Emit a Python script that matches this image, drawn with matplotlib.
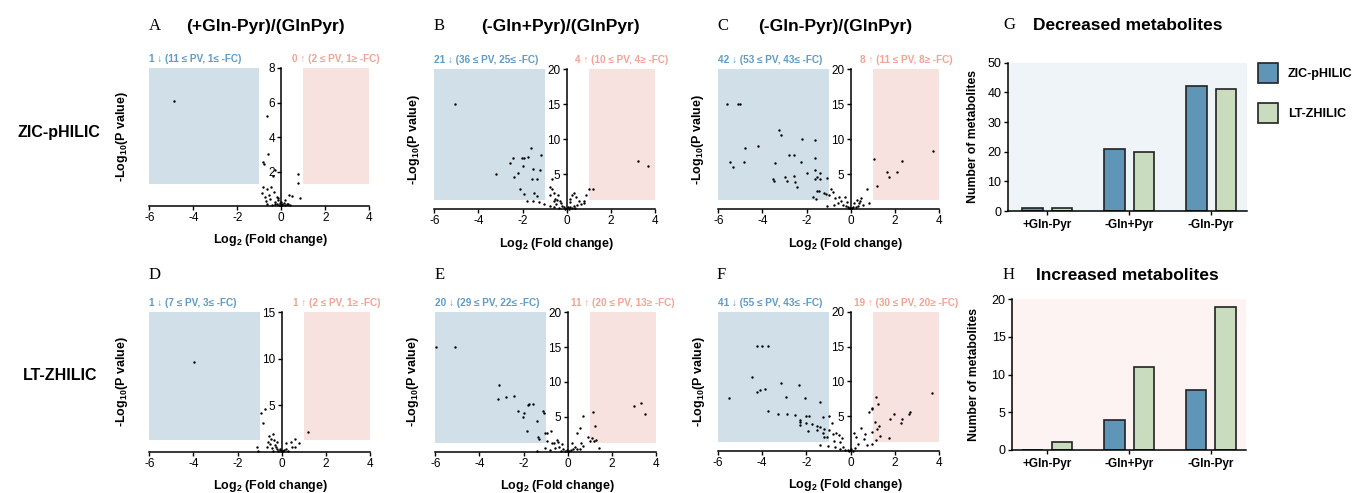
import matplotlib.pyplot as plt
import numpy as np
from matplotlib.patches import Patch, Rectangle

plt.rcParams['font.family'] = ['Liberation Sans', 'DejaVu Sans']
plt.rcParams['mathtext.fontset'] = 'custom'
plt.rcParams['mathtext.rm'] = 'Liberation Sans'
plt.rcParams['mathtext.bf'] = 'Liberation Sans:bold'
plt.rcParams['axes.unicode_minus'] = False

# пороги для выделенных зон
FC_CUT = 1.0
P_CUT = 1.3

# точки (log2 FC, -log10 p) для каждого вулкана
A_points = [(-4.88, 6.09), (-0.66, 5.22), (-0.61, 3.00), (-0.84, 2.54), (-0.78, 2.41),
            (-0.37, 1.73), (-0.29, 2.08), (0.77, 1.83), (0.76, 1.35), (-0.81, 1.12),
            (-0.66, 0.96), (-0.46, 1.12), (-0.89, 0.73), (-0.73, 0.54), (-0.58, 0.64),
            (-0.35, 0.81), (-0.20, 0.54), (-0.51, 0.39), (-0.28, 0.25), (-0.13, 0.35),
            (-0.05, 0.19), (0.02, 0.12), (0.10, 0.15), (0.19, 0.35), (0.33, 0.64),
            (0.48, 0.58), (0.86, 0.44), (0.24, 0.12), (0.39, 0.06), (-0.66, 0.12),
            (-0.43, 0.08), (-0.20, 0.12), (-0.69, 0.31), (0.05, 0.03), (-0.10, 0.05),
            (0.15, 0.05), (-0.30, 0.10), (0.00, 0.25), (-0.15, 0.45), (0.30, 0.10)]

B_points = [(-5.06, 15.0), (-1.63, 8.8), (-1.18, 7.7), (-2.04, 7.35), (-1.93, 7.35),
            (-1.74, 7.5), (-2.45, 7.3), (-2.57, 6.6), (-2.0, 6.1), (-3.21, 5.0),
            (-2.2, 5.1), (-2.4, 4.6), (-1.54, 5.7), (-1.2, 5.6), (-1.56, 4.25),
            (-1.36, 4.25), (-2.1, 2.8), (-1.94, 2.15), (-1.48, 2.25), (-1.33, 1.9),
            (-1.79, 1.2), (-1.52, 1.1), (-1.25, 1.0), (-1.03, 0.7), (3.21, 6.9),
            (3.68, 6.2), (0.99, 2.8), (1.2, 2.8), (0.87, 2.05), (-0.68, 4.3),
            (-0.77, 3.1), (-0.65, 2.9), (-0.56, 2.24), (-0.74, 2.05), (-0.38, 1.96),
            (-0.51, 1.48), (-0.44, 1.29), (-0.59, 1.19), (-0.32, 1.19), (-0.47, 0.72),
            (-0.26, 0.81), (-0.21, 0.43), (-0.56, 0.24), (-0.36, 0.14), (-0.14, 0.24),
            (-0.06, 0.05), (-0.74, 0.43), (0.32, 2.24), (0.24, 1.96), (0.44, 1.77),
            (0.17, 1.48), (0.14, 1.0), (0.54, 1.19), (0.77, 1.19), (0.65, 0.72),
            (0.47, 0.62), (0.8, 0.81), (0.32, 0.43), (0.17, 0.24), (0.09, 0.05),
            (0.05, 0.33), (0.24, 0.14), (0.39, 0.14)]

C_points = [(-5.62, 15.0), (-5.09, 15.0), (-5.02, 15.0), (-3.24, 11.3), (-3.16, 10.6),
            (-2.21, 10.0), (-1.63, 9.9), (-4.22, 9.0), (-4.81, 8.8), (-2.57, 7.76),
            (-2.81, 7.67), (-1.63, 7.29), (-2.24, 6.71), (-5.47, 6.71), (-4.84, 6.67),
            (-3.45, 6.62), (-5.35, 6.05), (-1.62, 5.57), (-2.0, 5.14), (-1.39, 5.1),
            (-2.57, 4.71), (-2.98, 4.62), (-1.54, 4.62), (-1.62, 4.24), (-1.39, 4.33),
            (-3.54, 4.33), (-3.47, 4.05), (-2.9, 3.95), (-2.53, 3.86), (-2.45, 3.19),
            (-1.09, 4.38), (-1.51, 2.62), (-1.42, 2.52), (-1.69, 1.67), (-1.57, 1.38),
            (-1.21, 2.24), (-0.89, 2.81), (-0.79, 2.48), (-1.12, 2.14), (-0.97, 2.05),
            (-0.71, 1.52), (-0.51, 1.76), (-0.44, 1.14), (-0.26, 1.67), (-0.17, 1.05),
            (-0.74, 0.57), (-0.56, 0.81), (-0.36, 0.57), (-0.21, 0.43), (-0.14, 0.24),
            (-0.06, 0.14), (-1.07, 0.43), (-0.03, 0.1), (0.17, 0.9), (0.29, 1.29),
            (0.39, 0.81), (0.47, 1.52), (0.54, 0.57), (0.74, 2.9), (0.85, 0.81),
            (0.09, 0.33), (0.24, 0.24), (0.35, 0.43), (0.05, 0.1), (0.42, 1.1),
            (1.05, 7.19), (1.17, 3.29), (1.63, 5.24), (1.75, 4.62), (2.08, 5.29),
            (2.32, 6.86), (3.74, 8.33)]

D_points = [(-3.96, 9.69), (-0.76, 4.56), (-0.94, 4.13), (-0.83, 3.05), (1.19, 2.08),
            (-0.38, 1.9), (-0.56, 1.69), (-0.47, 1.33), (-0.35, 1.26), (-0.23, 1.08),
            (-0.6, 1.08), (-0.53, 0.83), (-0.3, 0.72), (-1.1, 0.54), (-1.06, 0.04),
            (-0.68, 0.54), (-0.45, 0.39), (-0.23, 0.25), (-0.08, 0.18), (0.0, 0.11),
            (0.06, 0.07), (0.21, 0.25), (0.18, 0.97), (0.4, 1.08), (0.6, 1.4),
            (0.78, 0.97), (0.45, 0.54), (0.6, 0.47), (0.3, 0.04), (-0.15, 0.04),
            (-0.38, 0.04), (-0.1, 0.3), (0.12, 0.2), (-0.25, 0.5)]

E_points = [(-5.98, 15.02), (-5.11, 15.02), (-3.11, 9.52), (-3.16, 7.56), (-2.8, 7.89),
            (-2.45, 7.99), (-1.79, 6.65), (-1.74, 6.84), (-1.59, 6.89), (-2.24, 5.79),
            (-1.97, 5.55), (-2.04, 4.98), (-1.11, 5.79), (-1.06, 5.5), (-1.38, 4.45),
            (-1.83, 2.97), (-1.33, 2.06), (-1.32, 1.87), (-1.02, 2.63), (-0.95, 2.73),
            (-0.74, 3.01), (-1.38, 0.05), (-0.95, 1.53), (-0.73, 1.2), (-0.61, 1.29),
            (-0.5, 1.67), (-0.43, 1.34), (-0.27, 1.1), (-0.38, 0.62), (-0.58, 0.48),
            (-1.03, 0.48), (-0.8, 0.24), (-0.2, 0.33), (-0.12, 0.1), (-0.05, 0.24),
            (0.02, 0.1), (0.13, 0.24), (0.25, 0.33), (0.4, 0.38), (0.56, 0.33),
            (0.33, 0.72), (0.21, 1.29), (0.71, 0.86), (0.6, 1.2), (0.44, 2.73),
            (0.56, 3.35), (0.71, 5.12), (0.93, 2.15), (1.0, 1.53), (1.08, 1.91),
            (1.19, 1.58), (1.26, 1.67), (1.16, 5.74), (1.25, 3.73), (1.4, 0.48),
            (3.0, 6.6), (3.34, 6.99), (3.49, 5.41), (-0.3, 0.15), (0.08, 0.05)]

F_points = [(-4.23, 15.07), (-3.99, 15.07), (-3.73, 15.07), (-4.47, 10.67), (-5.5, 7.61),
            (-3.16, 9.76), (-2.34, 9.47), (-4.23, 8.42), (-4.08, 8.71), (-3.88, 8.95),
            (-2.93, 7.75), (-2.08, 7.66), (-1.38, 7.08), (-3.73, 5.79), (-3.28, 5.26),
            (-2.87, 5.36), (-2.53, 5.12), (-2.03, 5.07), (-1.89, 4.98), (-2.3, 4.45),
            (-2.27, 4.16), (-2.3, 3.68), (-2.0, 3.97), (-1.73, 3.83), (-1.51, 3.59),
            (-1.92, 2.87), (-1.54, 3.01), (-1.39, 3.49), (-1.24, 4.93), (-0.97, 5.07),
            (-1.21, 3.16), (-1.24, 2.63), (-1.21, 1.96), (-0.86, 3.97), (-0.97, 3.01),
            (-1.09, 2.06), (-0.79, 2.44), (-0.64, 2.63), (-0.52, 2.25), (-0.38, 1.82),
            (-0.76, 1.48), (-0.49, 1.34), (-1.39, 0.91), (-1.02, 0.77), (-0.72, 0.62),
            (-0.34, 0.62), (-0.49, 0.24), (-0.26, 0.14), (-0.11, 0.1), (0.04, 0.24),
            (0.19, 0.38), (0.15, 2.63), (0.24, 2.06), (0.47, 3.35), (0.65, 2.39),
            (0.6, 1.77), (0.35, 1.0), (0.72, 0.81), (0.95, 0.96), (0.99, 2.78),
            (0.84, 5.55), (0.95, 5.98), (0.99, 6.17), (1.13, 7.8), (1.22, 6.75),
            (1.1, 4.16), (1.28, 3.59), (1.17, 1.53), (1.33, 2.2), (1.18, 3.11),
            (1.75, 1.82), (1.78, 4.55), (1.96, 5.31), (2.28, 4.07), (2.34, 4.55),
            (2.63, 5.26), (2.69, 5.6), (3.67, 8.37), (0.1, 0.05), (-0.05, 0.03)]

# подписи над зонами
down_labels = ['1 ↓ (11 ≤ PV, 1≤ -FC)', '21 ↓ (36 ≤ PV, 25≤ -FC)', '42 ↓ (53 ≤ PV, 43≤ -FC)',
               '1 ↓ (7 ≤ PV, 3≤ -FC)', '20 ↓ (29 ≤ PV, 22≤ -FC)', '41 ↓ (55 ≤ PV, 43≤ -FC)']
up_labels = ['0 ↑ (2 ≤ PV, 1≥ -FC)', '4 ↑ (10 ≤ PV, 4≥ -FC)', '8 ↑ (11 ≤ PV, 8≥ -FC)',
             '1 ↑ (2 ≤ PV, 1≥ -FC)', '11 ↑ (20 ≤ PV, 13≥ -FC)', '19 ↑ (30 ≤ PV, 20≥ -FC)']
volcano_titles = ['(+Gln-Pyr)/(GlnPyr)', '(-Gln+Pyr)/(GlnPyr)', '(-Gln-Pyr)/(GlnPyr)']

# столбчатые диаграммы
conditions = ['+Gln-Pyr', '-Gln+Pyr', '-Gln-Pyr']
columns = ['ZIC-pHILIC', 'LT-ZHILIC']
decreased_zic = [1, 21, 42]
decreased_lt = [1, 20, 41]
increased_zic = [0, 4, 8]
increased_lt = [1, 11, 19]

BLUE_BG = '#d1e0e8'
PINK_BG = '#f8e2df'
BLUE_TXT = '#5f9bc5'
PINK_TXT = '#f1a394'
BAR_BLUE = '#5f96b8'
BAR_GREEN = '#c9dcbd'
EDGE = '#222222'

W, H = 1354, 493
fig = plt.figure(figsize=(W / 100, H / 100), dpi=100)


def fx(px):
    return px / W


def fy(py):
    return 1 - py / H


def volcano(rect, pts, ymax, yticks, down_txt, up_txt, ylab_x, xlab_x):
    ax = fig.add_axes(rect)
    ax.set_xlim(-6, 4)
    ax.set_ylim(0, ymax)
    ax.add_patch(Rectangle((-6, P_CUT), 6 - FC_CUT, ymax - P_CUT, facecolor=BLUE_BG, lw=0, zorder=0))
    ax.add_patch(Rectangle((FC_CUT, P_CUT), 4 - FC_CUT, ymax - P_CUT, facecolor=PINK_BG, lw=0, zorder=0))
    fc, p = np.array(pts).T
    ax.scatter(fc, p, s=3, c='black', linewidths=0, zorder=3, clip_on=False)

    ax.spines['left'].set_position(('data', 0))
    ax.spines[['top', 'right']].set_visible(False)
    for s in ['left', 'bottom']:
        ax.spines[s].set_linewidth(1.1)
        ax.spines[s].set_zorder(4)
    ax.set_xticks([-6, -4, -2, 0, 2, 4])
    ax.set_yticks(yticks)
    ax.tick_params(labelsize=8.5, length=3, width=1, pad=1.5)
    ax.set_facecolor('none')

    ax.set_ylabel(r'-Log$_{\mathbf{10}}$(P value)', fontsize=9, weight='bold')
    ax.yaxis.set_label_coords(ylab_x, 0.5)
    ax.set_xlabel(r'Log$_{\mathbf{2}}$ (Fold change)', fontsize=9, weight='bold')
    ax.xaxis.set_label_coords(xlab_x, -0.19)

    ax.annotate(down_txt, xy=(-6, 1), xycoords=('data', 'axes fraction'), xytext=(0, 6.5),
                textcoords='offset points', ha='left', va='center', fontsize=7.2,
                weight='bold', color=BLUE_TXT)
    ax.annotate(up_txt, xy=(2.5, 1), xycoords=('data', 'axes fraction'), xytext=(0, 6.5),
                textcoords='offset points', ha='center', va='center', fontsize=7.2,
                weight='bold', color=PINK_TXT)
    return ax


volcano([fx(149.3), fy(206), fx(220), 138 / H], A_points, 8, [2, 4, 6, 8],
        down_labels[0], up_labels[0], -0.087, 0.55)
volcano([fx(434.3), fy(209), fx(220.7), 139.7 / H], B_points, 20, [5, 10, 15, 20],
        down_labels[1], up_labels[1], -0.057, 0.555)
volcano([fx(718.3), fy(209), fx(220.7), 139.7 / H], C_points, 20, [5, 10, 15, 20],
        down_labels[2], up_labels[2], -0.056, 0.575)
volcano([fx(149.3), fy(451.7), fx(220.7), 139.4 / H], D_points, 15, [5, 10, 15],
        down_labels[3], up_labels[3], -0.087, 0.55)
volcano([fx(435.3), fy(451.7), fx(220.7), 139.4 / H], E_points, 20, [5, 10, 15, 20],
        down_labels[4], up_labels[4], -0.066, 0.555)
volcano([fx(718), fy(451), fx(221), 139.3 / H], F_points, 20, [5, 10, 15, 20],
        down_labels[5], up_labels[5], -0.051, 0.575)


def bar_panel(rect, zic, lt, ymax, step, bg, xlim, ylab_x):
    ax = fig.add_axes(rect)
    x = np.arange(len(conditions))
    width = 0.25
    ax.bar(x - 0.18, zic, width, color=BAR_BLUE, edgecolor=EDGE, linewidth=1.2, label=columns[0])
    ax.bar(x + 0.18, lt, width, color=BAR_GREEN, edgecolor=EDGE, linewidth=1.2, label=columns[1])
    ax.set_facecolor(bg)
    ax.set_xlim(*xlim)
    ax.set_ylim(0, ymax)
    ax.set_yticks(np.arange(0, ymax + 1, step))
    ax.set_xticks(x)
    ax.set_xticklabels(conditions, fontsize=8.5, weight='bold')
    ax.spines[['top', 'right']].set_visible(False)
    for s in ['left', 'bottom']:
        ax.spines[s].set_linewidth(1.1)
    ax.tick_params(axis='y', labelsize=9, length=3, width=1, pad=1.5)
    ax.tick_params(axis='x', length=3, width=1, pad=3)
    ax.set_ylabel('Number of metabolites', fontsize=8.8, weight='bold')
    ax.yaxis.set_label_coords(ylab_x, 0.5)
    return ax


ax_g = bar_panel([fx(1007.7), fy(211), fx(239), 148.3 / H], decreased_zic, decreased_lt,
                 50, 10, '#eef4f8', (-0.484, 2.436), -0.119)
ax_h = bar_panel([fx(1011.7), fy(450), fx(234.3), 151 / H], increased_zic, increased_lt,
                 20, 5, '#fdf3f2', (-0.436, 2.432), -0.135)

handles = [Patch(facecolor=BAR_BLUE, edgecolor=EDGE, linewidth=1.2, label=columns[0]),
           Patch(facecolor=BAR_GREEN, edgecolor=EDGE, linewidth=1.2, label=columns[1])]
ax_g.legend(handles=handles, loc='upper left', bbox_to_anchor=(fx(1258), fy(62.7)),
            bbox_transform=fig.transFigure, frameon=False, borderpad=0, borderaxespad=0,
            handlelength=1.6, handleheight=2.08, handletextpad=0.8, labelspacing=1.6,
            prop={'weight': 'bold', 'size': 9})

# буквы панелей и заголовки
letters = [('A', 149, 26), ('B', 434, 26), ('C', 717, 26), ('D', 149, 275),
           ('E', 435, 275), ('F', 717, 275), ('G', 1003, 25), ('H', 1003, 275)]
for letter, px, py in letters:
    fig.text(fx(px), fy(py), letter, family='Liberation Serif', fontsize=12,
             ha='left', va='center')

for title, px in zip(volcano_titles, [265, 560, 835.5]):
    fig.text(fx(px), fy(26), title, fontsize=12.5, weight='bold', ha='center', va='center')

fig.text(fx(1033), fy(25), 'Decreased metabolites', fontsize=12.5, weight='bold', ha='left', va='center')
fig.text(fx(1036), fy(275), 'Increased metabolites', fontsize=12.5, weight='bold', ha='left', va='center')

fig.text(fx(59), fy(132), columns[0], fontsize=11.5, weight='bold', ha='center', va='center')
fig.text(fx(60), fy(376), columns[1], fontsize=11.5, weight='bold', ha='center', va='center')

fig.savefig('out.png', dpi=100)
